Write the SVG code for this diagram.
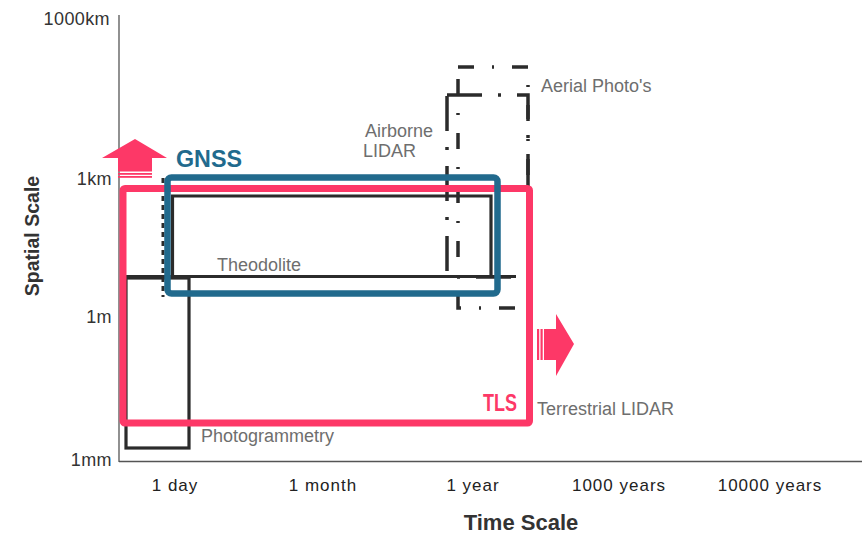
<svg xmlns="http://www.w3.org/2000/svg" width="867" height="535" viewBox="0 0 867 535">
<style>
.tick{font-family:"Liberation Sans",Arial,sans-serif;font-size:18px;letter-spacing:0.4px;fill:#333;text-anchor:end}
.xl{font-family:"Liberation Sans",Arial,sans-serif;font-size:17px;fill:#222;letter-spacing:1px;text-anchor:middle}
.lbl{font-family:"Liberation Sans",Arial,sans-serif;font-size:18px;fill:#6e6e6e}
.ax{font-family:"Liberation Sans",Arial,sans-serif;font-weight:bold;fill:#333}
.solid{fill:none;stroke:#2b2b2b;stroke-width:3.2}
.dd{fill:none;stroke:#2b2b2b;stroke-width:3.5}
</style>
<rect width="867" height="535" fill="#fff"/>
<g id="axes">
<line x1="119" y1="15" x2="119" y2="462" stroke="#555" stroke-width="1.3"/>
<line x1="119" y1="461.5" x2="862" y2="461.5" stroke="#555" stroke-width="1.3"/>
<text class="tick" x="110" y="25">1000km</text>
<text class="tick" x="112" y="185">1km</text>
<text class="tick" x="112" y="323">1m</text>
<text class="tick" x="112" y="466">1mm</text>
<text class="ax" font-size="19.5" text-anchor="middle" transform="translate(39,236) rotate(-90)">Spatial Scale</text>
<text class="xl" x="175" y="491">1 day</text>
<text class="xl" x="323" y="491">1 month</text>
<text class="xl" x="473" y="491">1 year</text>
<text class="xl" x="619" y="491">1000 years</text>
<text class="xl" x="770" y="491">10000 years</text>
<text class="ax" font-size="22" text-anchor="middle" x="521" y="530">Time Scale</text>
</g>
<g id="photogrammetry">
<rect class="solid" x="126" y="278" width="63" height="170"/>
<text class="lbl" x="201" y="442">Photogrammetry</text>
</g>
<g id="theodolite">
<line class="solid" x1="126" y1="276.5" x2="516" y2="276.5"/>
<polyline class="solid" points="172.5,276.5 172.5,196 491,196 491,276.5"/>
<line x1="163" y1="178" x2="163" y2="297" stroke="#2b2b2b" stroke-width="3" stroke-dasharray="5 4"/>
<text class="lbl" x="217" y="271">Theodolite</text>
</g>
<g id="airborne-lidar">
<path class="dd" d="M447,95 H528 V277 H447 Z" stroke-dasharray="35 16 3 16"/>
<text class="lbl" x="365" y="137">Airborne</text>
<text class="lbl" x="363" y="157">LIDAR</text>
</g>
<g id="aerial-photos">
<path class="dd" d="M458,67 H528 V308 H458 Z" stroke-dasharray="16 18 2 18"/>
<text class="lbl" x="541" y="92">Aerial Photo's</text>
</g>
<g id="tls">
<rect x="123" y="188.5" width="406.5" height="234.5" rx="2" fill="none" stroke="#fd3867" stroke-width="7"/>
<text x="517" y="411" font-family="Liberation Sans,Arial,sans-serif" font-weight="bold" font-size="23" fill="#fd3867" text-anchor="end" textLength="34" lengthAdjust="spacingAndGlyphs">TLS</text>
<text class="lbl" x="537" y="415">Terrestrial LIDAR</text>
<polygon points="544,329 556,329 556,314 574,344 556,376 556,360 544,360" fill="#fd3867"/>
<rect x="537" y="329" width="2.2" height="31" fill="#fd3867"/>
<rect x="540.5" y="329" width="2.2" height="31" fill="#fd3867"/>
</g>
<g id="gnss">
<rect x="167.5" y="177.5" width="330" height="116" rx="4" fill="none" stroke="#216a8d" stroke-width="6.5"/>
<text x="176" y="167" font-family="Liberation Sans,Arial,sans-serif" font-weight="bold" font-size="24" fill="#216a8d" textLength="66" lengthAdjust="spacingAndGlyphs">GNSS</text>
<polygon points="135,139 167,158 152,158 152,171.5 118,171.5 118,158 102,158" fill="#fd3867"/>
<rect x="118" y="173" width="34" height="1.8" fill="#fd3867"/>
<rect x="118" y="176" width="34" height="1.8" fill="#fd3867"/>
</g>
</svg>
